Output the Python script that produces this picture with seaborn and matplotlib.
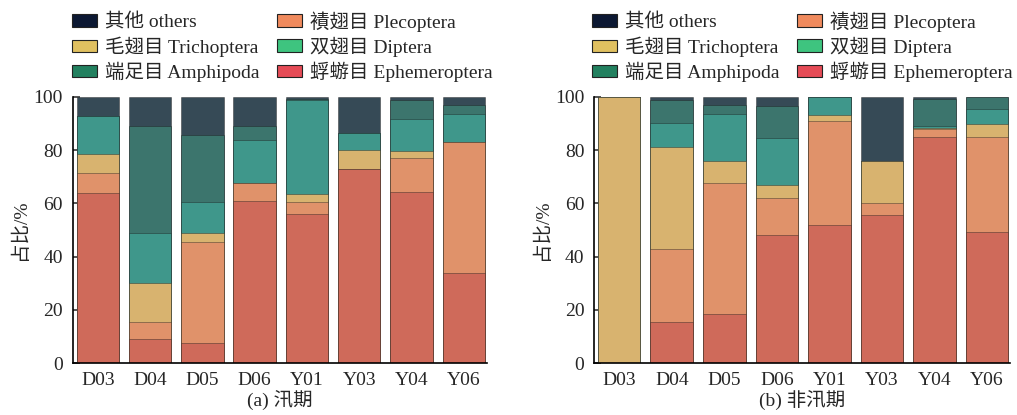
import matplotlib
matplotlib.use("Agg")
import matplotlib.pyplot as plt
import seaborn as sns
import pandas as pd
import numpy as np
from matplotlib.patches import Patch
from matplotlib.font_manager import FontProperties

# ---------------- data ----------------
sites = ["D03", "D04", "D05", "D06", "Y01", "Y03", "Y04", "Y06"]
groups = ["蜉蝣目 Ephemeroptera", "襀翅目 Plecoptera", "毛翅目 Trichoptera",
          "双翅目 Diptera", "端足目 Amphipoda", "其他 others"]

# (a) 汛期 flood season, % per site
flood_ephemeroptera = [64.0, 9.0, 7.5, 61.0, 55.9, 73.0, 64.4, 33.7]
flood_plecoptera    = [7.3, 6.3, 38.1, 6.7, 4.5, 0.0, 12.6, 49.4]
flood_trichoptera   = [7.1, 14.7, 3.1, 0.0, 3.0, 6.9, 2.6, 0.0]
flood_diptera       = [14.4, 19.0, 11.9, 16.1, 35.4, 6.6, 12.0, 10.3]
flood_amphipoda     = [0.0, 40.0, 25.0, 5.3, 0.5, 0.0, 7.2, 3.4]
flood_others        = [7.2, 11.0, 14.4, 10.9, 0.7, 13.5, 1.2, 3.2]

# (b) 非汛期 non-flood season, % per site
dry_ephemeroptera = [0.0, 15.6, 18.5, 48.1, 51.9, 55.6, 85.0, 49.4]
dry_plecoptera    = [0.0, 27.1, 49.2, 13.9, 39.1, 4.4, 3.0, 35.4]
dry_trichoptera   = [100.0, 38.5, 8.3, 4.9, 2.1, 16.0, 0.3, 4.8]
dry_diptera       = [0.0, 9.1, 17.5, 17.5, 6.9, 0.0, 0.8, 5.8]
dry_amphipoda     = [0.0, 8.5, 3.4, 12.2, 0.0, 0.0, 9.9, 4.6]
dry_others        = [0.0, 1.2, 3.1, 3.4, 0.0, 24.0, 1.0, 0.0]

panel_titles = ["(a) 汛期", "(b) 非汛期"]
yticks = [0, 20, 40, 60, 80, 100]

# ---------------- styles ----------------
bar_colors = ["#cf6a5a", "#e0926a", "#d8b36f", "#3f978b", "#3c756d", "#364a56"]
legend_colors = ["#e54b56", "#f08a5d", "#e0c060", "#3ec47f", "#22805f", "#0c1833"]

sns.set_style("ticks")
FAM = ["Liberation Serif", "Noto Sans CJK SC", "DejaVu Sans"]
plt.rcParams["font.family"] = FAM
plt.rcParams["axes.unicode_minus"] = False
FS = 14

W, H = 1017, 415
fig = plt.figure(figsize=(W / 100, H / 100), dpi=100)

ax_bottom = 1 - 363.2 / H
ax_height = (363.2 - 96.7) / H
axes = [fig.add_axes([72.7 / W, ax_bottom, 414 / W, ax_height]),
        fig.add_axes([594 / W, ax_bottom, 416 / W, ax_height])]

flood = [flood_ephemeroptera, flood_plecoptera, flood_trichoptera,
         flood_diptera, flood_amphipoda, flood_others]
dry = [dry_ephemeroptera, dry_plecoptera, dry_trichoptera,
       dry_diptera, dry_amphipoda, dry_others]

for ax, series, title in zip(axes, [flood, dry], panel_titles):
    rows = []
    for g, vals in zip(groups, series):
        for s, v in zip(sites, vals):
            rows.append({"site": s, "group": g, "value": v})
    df = pd.DataFrame(rows)
    df["group"] = pd.Categorical(df["group"], categories=groups, ordered=True)
    df = df.sort_values(["site", "group"])
    df["cum"] = df.groupby("site")["value"].cumsum()
    # draw from the top layer down so lower layers overlay
    for g, col in reversed(list(zip(groups, bar_colors))):
        sub = df[df["group"] == g]
        sns.barplot(data=sub, x="site", y="cum", order=sites, color=col,
                    width=0.81, saturation=1, edgecolor=(0.1, 0.1, 0.1, 0.4),
                    linewidth=0.7, ax=ax, errorbar=None)
    ax.set_xlim(-0.48, 7.44)
    ax.set_ylim(0, 100)
    ax.set_yticks(yticks)
    ax.set_yticklabels([str(t) for t in yticks], fontsize=FS)
    ax.set_xticks(range(len(sites)))
    ax.set_xticklabels(sites, fontsize=FS)
    ax.tick_params(axis="y", direction="in", length=5, width=1.1, pad=7)
    ax.tick_params(axis="x", length=0, pad=6)
    for sp in ["top", "right"]:
        ax.spines[sp].set_visible(False)
    for sp in ["left", "bottom"]:
        ax.spines[sp].set_linewidth(1.2)
        ax.spines[sp].set_color("black")
    ax.set_xlabel(title, fontsize=FS, labelpad=2)
    ax.set_ylabel("占比/%", fontsize=FS, labelpad=3)

# legends (column-major order)
leg_order = [5, 2, 4, 1, 3, 0]
handles = [Patch(facecolor=legend_colors[i], edgecolor="#222222", linewidth=0.8)
           for i in leg_order]
labels = [groups[i] for i in leg_order]
prop = FontProperties(family=FAM, size=FS)
for x0 in [72.0 / W, 592.0 / W]:
    fig.legend(handles, labels, ncol=2, loc="upper left",
               bbox_to_anchor=(x0, 1 - 11 / H), frameon=False, prop=prop,
               handlelength=1.3, handleheight=0.62, handletextpad=0.4,
               columnspacing=0.9, labelspacing=0.25, borderpad=0,
               borderaxespad=0)

fig.savefig("out.png", dpi=100)
